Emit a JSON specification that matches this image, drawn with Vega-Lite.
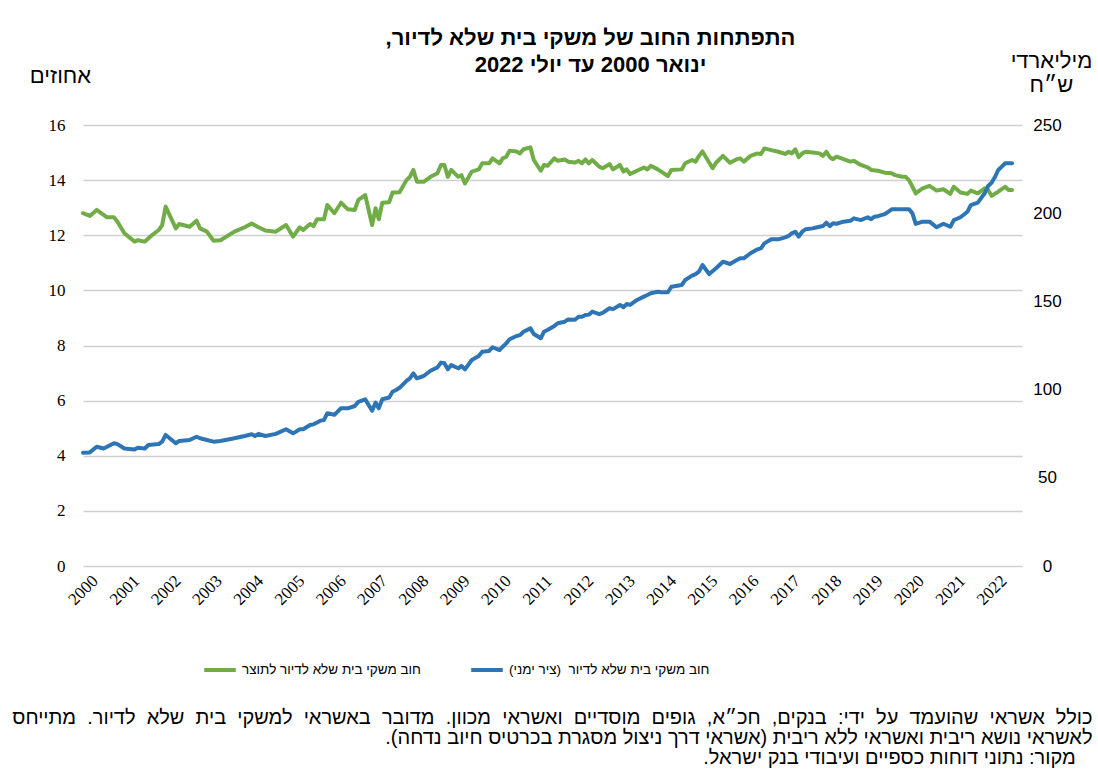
{
  "$schema": "https://vega.github.io/schema/vega-lite/v6.json",
  "width": 939,
  "height": 441,
  "autosize": {"type": "none"},
  "padding": {"left": 83, "top": 125, "right": 76, "bottom": 203},
  "background": "white",
  "config": {"view": {"stroke": null}, "font": "Liberation Sans"},
  "title": {
    "text": ["התפתחות החוב של משקי בית שלא לדיור,\u200f", "ינואר 2000 עד יולי 2022"],
    "anchor": "middle",
    "dx": 38,
    "offset": -28,
    "font": "Liberation Sans",
    "fontSize": 22,
    "fontWeight": "bold",
    "color": "black",
    "lineHeight": 27
  },
  "datasets": {
    "ratio": [
      {"date": "2000-01", "value": 12.80}, {"date": "2000-03", "value": 12.70}, {"date": "2000-05", "value": 12.92},
      {"date": "2000-08", "value": 12.65}, {"date": "2000-10", "value": 12.65}, {"date": "2000-11", "value": 12.49},
      {"date": "2001-01", "value": 12.07}, {"date": "2001-04", "value": 11.77}, {"date": "2001-05", "value": 11.82},
      {"date": "2001-07", "value": 11.77}, {"date": "2001-09", "value": 12.00}, {"date": "2001-11", "value": 12.19},
      {"date": "2001-12", "value": 12.37}, {"date": "2002-01", "value": 13.04}, {"date": "2002-04", "value": 12.25},
      {"date": "2002-05", "value": 12.41}, {"date": "2002-08", "value": 12.31}, {"date": "2002-10", "value": 12.53},
      {"date": "2002-11", "value": 12.25}, {"date": "2003-01", "value": 12.13}, {"date": "2003-03", "value": 11.80},
      {"date": "2003-05", "value": 11.82}, {"date": "2003-09", "value": 12.13}, {"date": "2003-12", "value": 12.29},
      {"date": "2004-02", "value": 12.43}, {"date": "2004-04", "value": 12.29}, {"date": "2004-06", "value": 12.17},
      {"date": "2004-09", "value": 12.13}, {"date": "2004-12", "value": 12.37}, {"date": "2005-02", "value": 11.95},
      {"date": "2005-04", "value": 12.29}, {"date": "2005-05", "value": 12.19}, {"date": "2005-07", "value": 12.41},
      {"date": "2005-08", "value": 12.33}, {"date": "2005-09", "value": 12.58}, {"date": "2005-11", "value": 12.58},
      {"date": "2005-12", "value": 13.10}, {"date": "2006-02", "value": 12.80}, {"date": "2006-04", "value": 13.18},
      {"date": "2006-06", "value": 12.94}, {"date": "2006-08", "value": 12.92}, {"date": "2006-09", "value": 13.28},
      {"date": "2006-11", "value": 13.46}, {"date": "2007-01", "value": 12.37}, {"date": "2007-02", "value": 12.98},
      {"date": "2007-03", "value": 12.58}, {"date": "2007-04", "value": 13.18}, {"date": "2007-06", "value": 13.20},
      {"date": "2007-07", "value": 13.55}, {"date": "2007-09", "value": 13.56}, {"date": "2007-11", "value": 14.00},
      {"date": "2007-12", "value": 14.12}, {"date": "2008-01", "value": 14.37}, {"date": "2008-02", "value": 13.94},
      {"date": "2008-04", "value": 13.94}, {"date": "2008-06", "value": 14.12}, {"date": "2008-08", "value": 14.25},
      {"date": "2008-09", "value": 14.55}, {"date": "2008-10", "value": 14.55}, {"date": "2008-11", "value": 14.12},
      {"date": "2008-12", "value": 14.37}, {"date": "2009-02", "value": 14.12}, {"date": "2009-03", "value": 14.18},
      {"date": "2009-04", "value": 13.88}, {"date": "2009-06", "value": 14.31}, {"date": "2009-08", "value": 14.39},
      {"date": "2009-09", "value": 14.61}, {"date": "2009-11", "value": 14.61}, {"date": "2009-12", "value": 14.79},
      {"date": "2010-02", "value": 14.61}, {"date": "2010-03", "value": 14.79}, {"date": "2010-04", "value": 14.85},
      {"date": "2010-05", "value": 15.07}, {"date": "2010-07", "value": 15.04}, {"date": "2010-08", "value": 14.97},
      {"date": "2010-09", "value": 15.12}, {"date": "2010-11", "value": 15.19}, {"date": "2010-12", "value": 14.73},
      {"date": "2011-02", "value": 14.34}, {"date": "2011-03", "value": 14.55}, {"date": "2011-04", "value": 14.52},
      {"date": "2011-06", "value": 14.79}, {"date": "2011-07", "value": 14.70}, {"date": "2011-09", "value": 14.75},
      {"date": "2011-10", "value": 14.67}, {"date": "2011-12", "value": 14.64}, {"date": "2012-01", "value": 14.70},
      {"date": "2012-02", "value": 14.61}, {"date": "2012-03", "value": 14.75}, {"date": "2012-04", "value": 14.61},
      {"date": "2012-05", "value": 14.73}, {"date": "2012-07", "value": 14.49}, {"date": "2012-08", "value": 14.43},
      {"date": "2012-10", "value": 14.58}, {"date": "2012-11", "value": 14.39}, {"date": "2013-01", "value": 14.55},
      {"date": "2013-02", "value": 14.31}, {"date": "2013-03", "value": 14.39}, {"date": "2013-04", "value": 14.22},
      {"date": "2013-06", "value": 14.34}, {"date": "2013-08", "value": 14.46}, {"date": "2013-09", "value": 14.39},
      {"date": "2013-10", "value": 14.52}, {"date": "2013-12", "value": 14.39}, {"date": "2014-01", "value": 14.31},
      {"date": "2014-03", "value": 14.15}, {"date": "2014-04", "value": 14.37}, {"date": "2014-07", "value": 14.39},
      {"date": "2014-08", "value": 14.61}, {"date": "2014-10", "value": 14.73}, {"date": "2014-11", "value": 14.67},
      {"date": "2014-12", "value": 14.88}, {"date": "2015-01", "value": 15.04}, {"date": "2015-04", "value": 14.43},
      {"date": "2015-05", "value": 14.63}, {"date": "2015-07", "value": 14.88}, {"date": "2015-09", "value": 14.63},
      {"date": "2015-11", "value": 14.76}, {"date": "2015-12", "value": 14.79}, {"date": "2016-01", "value": 14.67},
      {"date": "2016-03", "value": 14.88}, {"date": "2016-05", "value": 14.97}, {"date": "2016-06", "value": 14.95},
      {"date": "2016-07", "value": 15.15}, {"date": "2016-09", "value": 15.09}, {"date": "2016-11", "value": 15.03},
      {"date": "2017-01", "value": 14.95}, {"date": "2017-02", "value": 15.03}, {"date": "2017-03", "value": 14.97},
      {"date": "2017-04", "value": 15.12}, {"date": "2017-05", "value": 14.83}, {"date": "2017-06", "value": 14.97},
      {"date": "2017-07", "value": 15.03}, {"date": "2017-09", "value": 15.00}, {"date": "2017-11", "value": 14.97},
      {"date": "2017-12", "value": 14.88}, {"date": "2018-01", "value": 15.03}, {"date": "2018-02", "value": 14.83},
      {"date": "2018-03", "value": 14.76}, {"date": "2018-04", "value": 14.85}, {"date": "2018-06", "value": 14.76},
      {"date": "2018-08", "value": 14.67}, {"date": "2018-09", "value": 14.70}, {"date": "2018-11", "value": 14.55},
      {"date": "2019-01", "value": 14.46}, {"date": "2019-02", "value": 14.37}, {"date": "2019-04", "value": 14.34},
      {"date": "2019-06", "value": 14.27}, {"date": "2019-08", "value": 14.25}, {"date": "2019-09", "value": 14.18},
      {"date": "2019-11", "value": 14.12}, {"date": "2019-12", "value": 14.12}, {"date": "2020-01", "value": 14.00},
      {"date": "2020-02", "value": 13.76}, {"date": "2020-03", "value": 13.52}, {"date": "2020-05", "value": 13.70},
      {"date": "2020-07", "value": 13.79}, {"date": "2020-09", "value": 13.62}, {"date": "2020-11", "value": 13.67},
      {"date": "2021-01", "value": 13.50}, {"date": "2021-02", "value": 13.76}, {"date": "2021-04", "value": 13.55},
      {"date": "2021-06", "value": 13.50}, {"date": "2021-07", "value": 13.62}, {"date": "2021-09", "value": 13.52},
      {"date": "2021-11", "value": 13.70}, {"date": "2021-12", "value": 13.64}, {"date": "2022-01", "value": 13.43},
      {"date": "2022-03", "value": 13.58}, {"date": "2022-04", "value": 13.67}, {"date": "2022-05", "value": 13.76},
      {"date": "2022-06", "value": 13.64}, {"date": "2022-07", "value": 13.64}
    ],
    "debt": [
      {"date": "2000-01", "value": 64.2}, {"date": "2000-03", "value": 64.4}, {"date": "2000-05", "value": 67.6},
      {"date": "2000-07", "value": 66.6}, {"date": "2000-10", "value": 69.6}, {"date": "2000-11", "value": 69.1},
      {"date": "2001-01", "value": 66.6}, {"date": "2001-04", "value": 66.1}, {"date": "2001-05", "value": 67.0},
      {"date": "2001-07", "value": 66.6}, {"date": "2001-08", "value": 68.6}, {"date": "2001-11", "value": 69.1},
      {"date": "2001-12", "value": 70.5}, {"date": "2002-01", "value": 74.3}, {"date": "2002-04", "value": 69.6},
      {"date": "2002-05", "value": 70.9}, {"date": "2002-08", "value": 71.4}, {"date": "2002-10", "value": 73.3},
      {"date": "2002-11", "value": 72.4}, {"date": "2003-01", "value": 71.4}, {"date": "2003-03", "value": 70.5},
      {"date": "2003-05", "value": 70.9}, {"date": "2003-09", "value": 72.4}, {"date": "2003-12", "value": 73.7},
      {"date": "2004-02", "value": 74.7}, {"date": "2004-03", "value": 73.7}, {"date": "2004-04", "value": 74.9},
      {"date": "2004-06", "value": 73.7}, {"date": "2004-09", "value": 74.9}, {"date": "2004-12", "value": 77.5},
      {"date": "2005-02", "value": 75.2}, {"date": "2005-04", "value": 77.5}, {"date": "2005-05", "value": 77.5},
      {"date": "2005-07", "value": 79.9}, {"date": "2005-08", "value": 80.3}, {"date": "2005-10", "value": 82.4},
      {"date": "2005-11", "value": 82.7}, {"date": "2005-12", "value": 86.6}, {"date": "2006-02", "value": 85.7},
      {"date": "2006-04", "value": 89.4}, {"date": "2006-06", "value": 89.4}, {"date": "2006-08", "value": 90.7},
      {"date": "2006-09", "value": 93.1}, {"date": "2006-11", "value": 94.5}, {"date": "2007-01", "value": 88.0},
      {"date": "2007-02", "value": 92.6}, {"date": "2007-03", "value": 89.4}, {"date": "2007-04", "value": 94.5},
      {"date": "2007-06", "value": 95.5}, {"date": "2007-07", "value": 98.8}, {"date": "2007-08", "value": 99.8},
      {"date": "2007-09", "value": 101.0}, {"date": "2007-11", "value": 105.0}, {"date": "2007-12", "value": 106.4},
      {"date": "2008-01", "value": 109.2}, {"date": "2008-02", "value": 106.4}, {"date": "2008-04", "value": 107.7},
      {"date": "2008-06", "value": 110.7}, {"date": "2008-08", "value": 112.6}, {"date": "2008-09", "value": 115.3},
      {"date": "2008-10", "value": 115.0}, {"date": "2008-11", "value": 111.5}, {"date": "2008-12", "value": 113.9},
      {"date": "2009-02", "value": 112.1}, {"date": "2009-03", "value": 113.4}, {"date": "2009-04", "value": 111.5},
      {"date": "2009-06", "value": 116.8}, {"date": "2009-08", "value": 119.0}, {"date": "2009-09", "value": 121.5},
      {"date": "2009-11", "value": 121.9}, {"date": "2009-12", "value": 124.0}, {"date": "2010-02", "value": 122.4},
      {"date": "2010-03", "value": 124.3}, {"date": "2010-04", "value": 126.2}, {"date": "2010-05", "value": 128.5},
      {"date": "2010-07", "value": 130.4}, {"date": "2010-08", "value": 130.9}, {"date": "2010-09", "value": 132.8},
      {"date": "2010-11", "value": 134.7}, {"date": "2010-12", "value": 131.5}, {"date": "2011-02", "value": 129.1},
      {"date": "2011-03", "value": 132.8}, {"date": "2011-04", "value": 133.8}, {"date": "2011-06", "value": 136.1},
      {"date": "2011-07", "value": 137.6}, {"date": "2011-09", "value": 138.5}, {"date": "2011-10", "value": 139.8},
      {"date": "2011-12", "value": 139.6}, {"date": "2012-01", "value": 141.3}, {"date": "2012-02", "value": 141.3},
      {"date": "2012-03", "value": 142.3}, {"date": "2012-04", "value": 142.5}, {"date": "2012-05", "value": 144.2},
      {"date": "2012-07", "value": 142.8}, {"date": "2012-08", "value": 143.5}, {"date": "2012-10", "value": 146.1},
      {"date": "2012-11", "value": 145.6}, {"date": "2013-01", "value": 148.0}, {"date": "2013-02", "value": 146.7},
      {"date": "2013-03", "value": 148.5}, {"date": "2013-04", "value": 148.0}, {"date": "2013-06", "value": 150.8},
      {"date": "2013-08", "value": 152.7}, {"date": "2013-09", "value": 153.6}, {"date": "2013-10", "value": 154.6},
      {"date": "2013-12", "value": 155.5}, {"date": "2014-01", "value": 155.2}, {"date": "2014-03", "value": 155.2},
      {"date": "2014-04", "value": 158.3}, {"date": "2014-07", "value": 159.3}, {"date": "2014-08", "value": 162.1},
      {"date": "2014-10", "value": 164.6}, {"date": "2014-11", "value": 165.5}, {"date": "2014-12", "value": 166.9},
      {"date": "2015-01", "value": 170.6}, {"date": "2015-03", "value": 165.5}, {"date": "2015-05", "value": 168.8},
      {"date": "2015-07", "value": 172.5}, {"date": "2015-09", "value": 171.2}, {"date": "2015-11", "value": 173.5},
      {"date": "2015-12", "value": 174.4}, {"date": "2016-01", "value": 174.4}, {"date": "2016-03", "value": 177.3},
      {"date": "2016-05", "value": 179.5}, {"date": "2016-06", "value": 180.1}, {"date": "2016-07", "value": 182.9},
      {"date": "2016-09", "value": 185.2}, {"date": "2016-11", "value": 185.2}, {"date": "2017-01", "value": 186.3},
      {"date": "2017-02", "value": 187.1}, {"date": "2017-03", "value": 188.6}, {"date": "2017-04", "value": 189.5},
      {"date": "2017-05", "value": 186.7}, {"date": "2017-06", "value": 189.5}, {"date": "2017-07", "value": 190.9},
      {"date": "2017-09", "value": 191.4}, {"date": "2017-11", "value": 192.3}, {"date": "2017-12", "value": 192.7},
      {"date": "2018-01", "value": 194.6}, {"date": "2018-02", "value": 192.7}, {"date": "2018-03", "value": 194.3},
      {"date": "2018-04", "value": 194.0}, {"date": "2018-06", "value": 195.2}, {"date": "2018-08", "value": 195.7},
      {"date": "2018-09", "value": 197.1}, {"date": "2018-11", "value": 196.1}, {"date": "2019-01", "value": 197.7},
      {"date": "2019-02", "value": 196.6}, {"date": "2019-03", "value": 198.0}, {"date": "2019-04", "value": 198.3},
      {"date": "2019-06", "value": 199.5}, {"date": "2019-07", "value": 200.8}, {"date": "2019-08", "value": 202.2},
      {"date": "2019-10", "value": 202.3}, {"date": "2020-01", "value": 202.3}, {"date": "2020-02", "value": 199.9},
      {"date": "2020-03", "value": 193.9}, {"date": "2020-05", "value": 195.2}, {"date": "2020-07", "value": 195.2},
      {"date": "2020-09", "value": 192.0}, {"date": "2020-11", "value": 194.0}, {"date": "2021-01", "value": 192.3},
      {"date": "2021-02", "value": 196.1}, {"date": "2021-04", "value": 197.7}, {"date": "2021-06", "value": 200.8},
      {"date": "2021-07", "value": 204.6}, {"date": "2021-09", "value": 206.0}, {"date": "2021-11", "value": 211.3},
      {"date": "2021-12", "value": 215.4}, {"date": "2022-01", "value": 217.3}, {"date": "2022-02", "value": 220.7},
      {"date": "2022-03", "value": 224.5}, {"date": "2022-04", "value": 226.4}, {"date": "2022-05", "value": 228.3},
      {"date": "2022-06", "value": 228.3}, {"date": "2022-07", "value": 228.3}
    ]
  },
  "encoding": {
    "x": {
      "field": "date",
      "type": "temporal",
      "scale": {
        "type": "utc",
        "domain": [{"year": 2000, "month": 1, "date": 1, "utc": true}, {"year": 2022, "month": 9, "date": 27, "utc": true}]
      },
      "axis": {
        "values": [
          {"year": 2000, "month": 1, "date": 1, "utc": true}, {"year": 2001, "month": 1, "date": 1, "utc": true},
          {"year": 2002, "month": 1, "date": 1, "utc": true}, {"year": 2003, "month": 1, "date": 1, "utc": true},
          {"year": 2004, "month": 1, "date": 1, "utc": true}, {"year": 2005, "month": 1, "date": 1, "utc": true},
          {"year": 2006, "month": 1, "date": 1, "utc": true}, {"year": 2007, "month": 1, "date": 1, "utc": true},
          {"year": 2008, "month": 1, "date": 1, "utc": true}, {"year": 2009, "month": 1, "date": 1, "utc": true},
          {"year": 2010, "month": 1, "date": 1, "utc": true}, {"year": 2011, "month": 1, "date": 1, "utc": true},
          {"year": 2012, "month": 1, "date": 1, "utc": true}, {"year": 2013, "month": 1, "date": 1, "utc": true},
          {"year": 2014, "month": 1, "date": 1, "utc": true}, {"year": 2015, "month": 1, "date": 1, "utc": true},
          {"year": 2016, "month": 1, "date": 1, "utc": true}, {"year": 2017, "month": 1, "date": 1, "utc": true},
          {"year": 2018, "month": 1, "date": 1, "utc": true}, {"year": 2019, "month": 1, "date": 1, "utc": true},
          {"year": 2020, "month": 1, "date": 1, "utc": true}, {"year": 2021, "month": 1, "date": 1, "utc": true},
          {"year": 2022, "month": 1, "date": 1, "utc": true}
        ],
        "format": "%Y",
        "labelAngle": -45,
        "labelAlign": "center",
        "labelBaseline": "middle",
        "labelPadding": 24,
        "labelFont": "Liberation Serif",
        "labelFontSize": 17,
        "labelColor": "black",
        "labelOverlap": false,
        "labelFlush": false,
        "labelBound": false,
        "ticks": false,
        "tickSize": 0,
        "domain": false,
        "grid": false,
        "title": [
          "כולל \u00a0אשראי \u00a0שהועמד \u00a0על \u00a0ידי: \u00a0בנקים, \u00a0חכ״א, \u00a0גופים \u00a0מוסדיים \u00a0ואשראי \u00a0מכוון. \u00a0מדובר \u00a0באשראי \u00a0למשקי \u00a0בית \u00a0שלא \u00a0לדיור. \u00a0מתייחס",
          "לאשראי נושא ריבית ואשראי ללא ריבית (אשראי דרך ניצול מסגרת בכרטיס חיוב נדחה).\u200f",
          "\u200f\u00a0\u00a0\u00a0מקור: נתוני דוחות כספיים ועיבודי בנק ישראל.\u200f"
        ],
        "titleX": 1009,
        "titleY": 157,
        "titleAlign": "right",
        "titleAnchor": "end",
        "titleBaseline": "alphabetic",
        "titleFont": "Liberation Sans",
        "titleFontSize": 20,
        "titleFontWeight": "normal",
        "titleColor": "black",
        "titleLineHeight": 20
      }
    }
  },
  "layer": [
    {
      "data": {"name": "ratio"},
      "mark": {"type": "line", "strokeWidth": 4, "strokeJoin": "round", "strokeCap": "round"},
      "encoding": {
        "y": {
          "field": "value",
          "type": "quantitative",
          "scale": {"domain": [0, 16], "nice": false, "zero": true},
          "axis": {
            "orient": "left",
            "values": [0, 2, 4, 6, 8, 10, 12, 14, 16],
            "grid": true,
            "gridColor": "#d0d0d0",
            "gridWidth": 1.5,
            "domain": false,
            "ticks": false,
            "tickSize": 0,
            "labelPadding": 18,
            "labelFont": "Liberation Serif",
            "labelFontSize": 17,
            "labelColor": "black",
            "title": "אחוזים",
            "titleAngle": 0,
            "titleX": -23,
            "titleY": -43,
            "titleAlign": "center",
            "titleBaseline": "alphabetic",
            "titleFont": "Liberation Sans",
            "titleFontSize": 22,
            "titleFontWeight": "normal",
            "titleColor": "black"
          }
        },
        "color": {
          "datum": "חוב משקי בית שלא לדיור לתוצר",
          "type": "nominal",
          "scale": {
            "domain": ["חוב משקי בית שלא לדיור לתוצר", "חוב משקי בית שלא לדיור\u00a0 (ציר ימני)\u200f"],
            "range": ["#70AD47", "#2E75B6"]
          },
          "legend": {
            "orient": "none",
            "legendX": 119,
            "legendY": 527,
            "direction": "horizontal",
            "title": null,
            "symbolType": "stroke",
            "symbolSize": 1000,
            "symbolStrokeWidth": 4,
            "labelFont": "Liberation Sans",
            "labelFontSize": 13.5,
            "labelColor": "black",
            "labelOffset": 4,
            "labelLimit": 400,
            "columnPadding": 42,
            "padding": 0
          }
        }
      }
    },
    {
      "data": {"name": "debt"},
      "mark": {"type": "line", "strokeWidth": 4, "strokeJoin": "round", "strokeCap": "round"},
      "encoding": {
        "y": {
          "field": "value",
          "type": "quantitative",
          "scale": {"domain": [0, 250], "nice": false, "zero": true},
          "axis": {
            "orient": "right",
            "values": [0, 50, 100, 150, 200, 250],
            "grid": false,
            "domain": false,
            "ticks": false,
            "tickSize": 0,
            "labelPadding": 25,
            "labelAlign": "center",
            "labelFont": "Liberation Sans",
            "labelFontSize": 17,
            "labelColor": "black",
            "title": ["מיליארדי", "ש״ח"],
            "titleAngle": 0,
            "titleX": 29,
            "titleY": -58,
            "titleAlign": "center",
            "titleBaseline": "alphabetic",
            "titleFont": "Liberation Sans",
            "titleFontSize": 22,
            "titleFontWeight": "normal",
            "titleColor": "black",
            "titleLineHeight": 24
          }
        },
        "color": {
          "datum": "חוב משקי בית שלא לדיור\u00a0 (ציר ימני)\u200f",
          "type": "nominal"
        }
      }
    }
  ],
  "resolve": {"scale": {"y": "independent"}}
}
